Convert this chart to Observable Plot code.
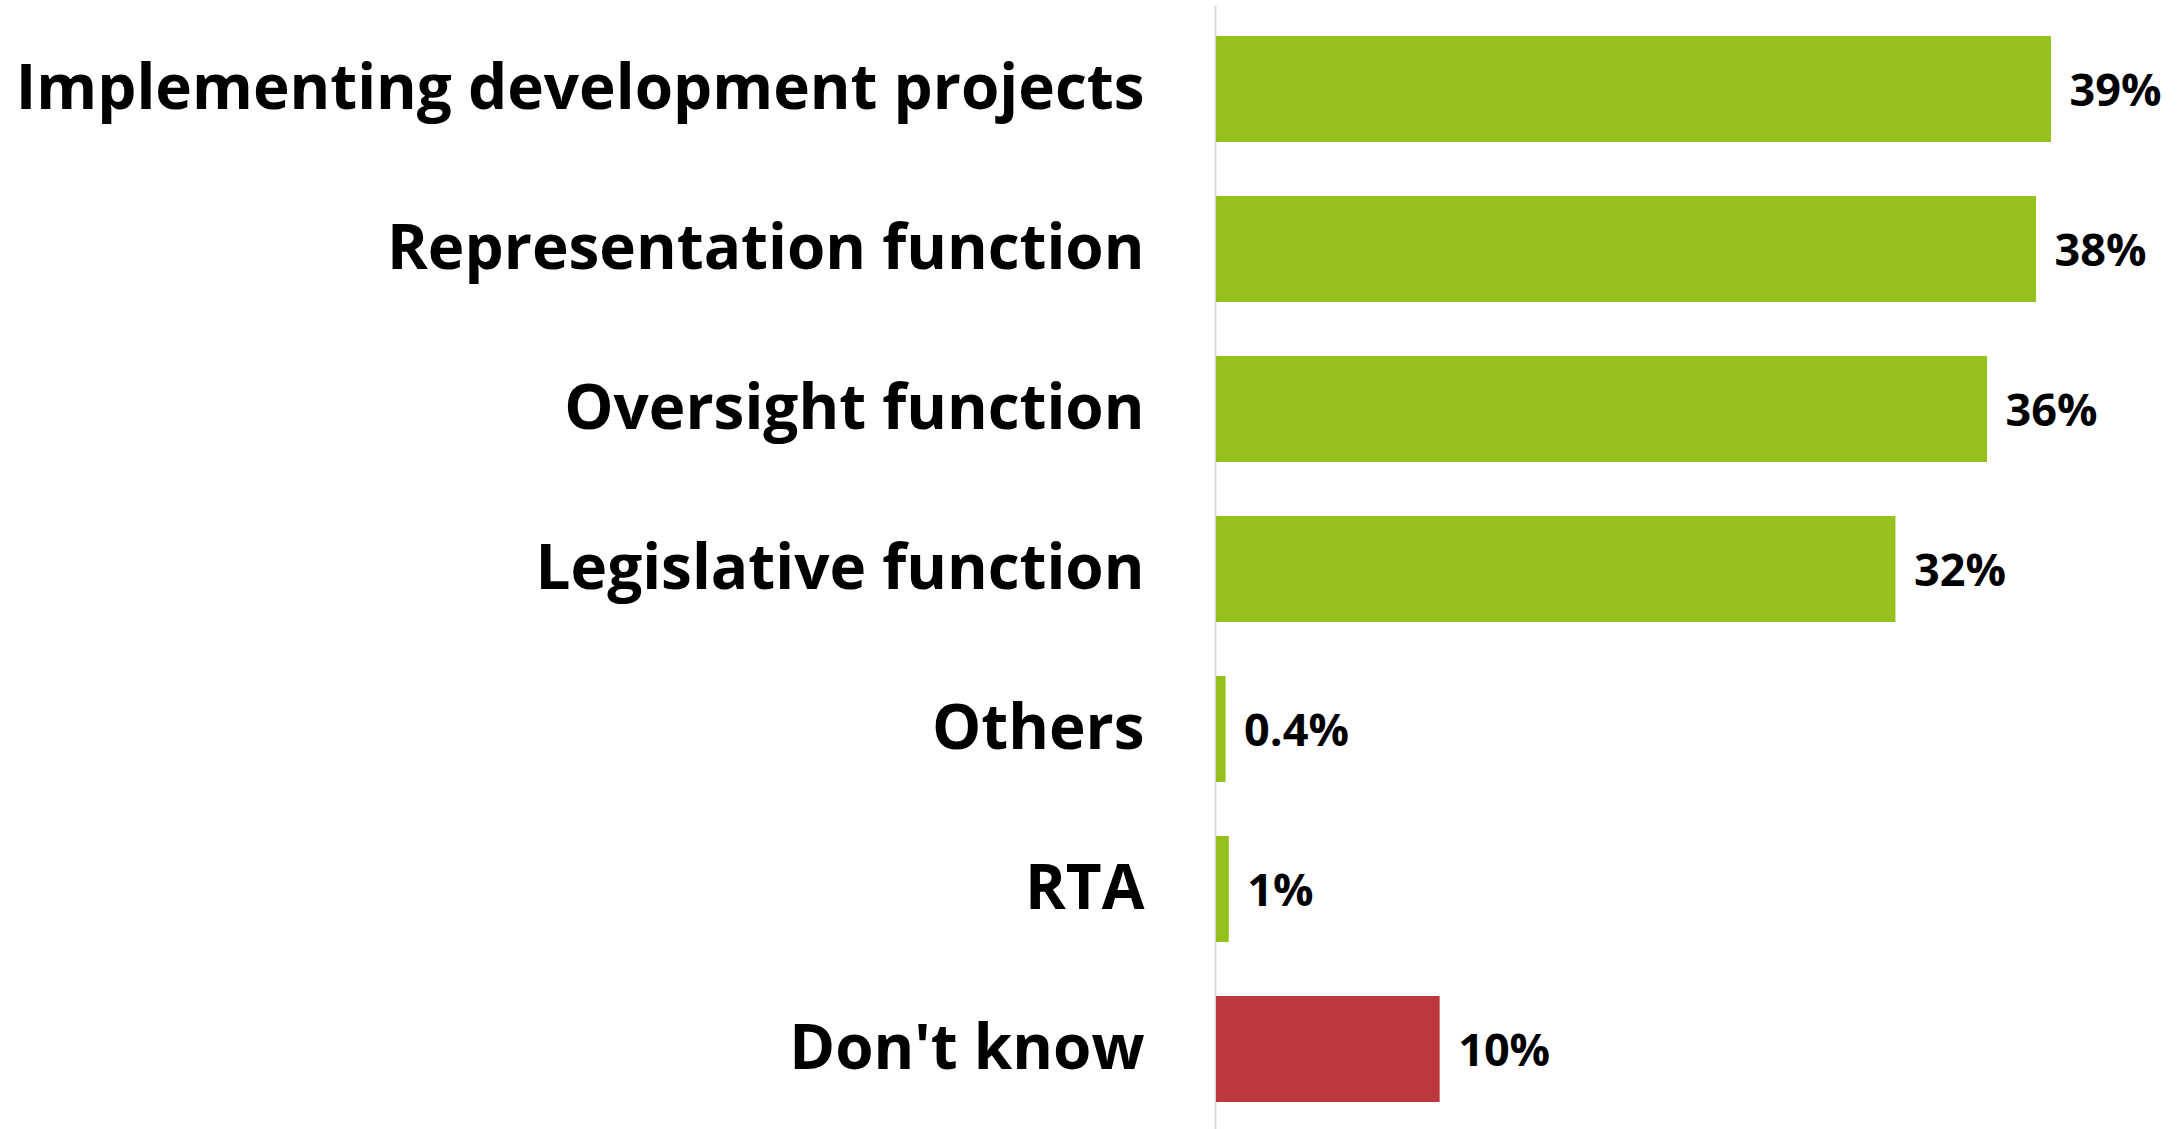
<!DOCTYPE html>
<html>
<head>
<meta charset="utf-8">
<script src="https://cdn.jsdelivr.net/npm/d3@7"></script>
<script src="https://cdn.jsdelivr.net/npm/@observablehq/plot@0.6"></script>
<style>
  html, body { margin: 0; padding: 0; background: #ffffff; }
  #chart svg { display: block; }
</style>
</head>
<body>
<div id="chart"></div>
<script>
const categories = [
  "Implementing development projects",
  "Representation function",
  "Oversight function",
  "Legislative function",
  "Others",
  "RTA",
  "Don't know"
];
const values = [39.2, 38.5, 36.2, 31.9, 0.45, 0.6, 10.5];
const valueLabels = ["39%", "38%", "36%", "32%", "0.4%", "1%", "10%"];

const data = categories.map((c, i) => ({category: c, value: values[i], label: valueLabels[i]}));

const GREEN = "#95c11f";
const RED = "#bd383e";
const FONT = "'Open Sans', Lato, sans-serif";

const chart = Plot.plot({
  width: 2182,
  height: 1129,
  marginLeft: 1216,
  marginRight: 7.5,
  marginTop: 6,
  marginBottom: -3,
  style: {fontFamily: FONT, background: "#ffffff", color: "#000000"},
  x: {domain: [0, 45], axis: null},
  y: {domain: categories, paddingInner: 0.34, paddingOuter: 0.17, label: null},
  marks: [
    Plot.ruleX([0], {stroke: "#d9d9d9", strokeWidth: 2, dx: -1}),
    Plot.barX(data, {
      x: "value",
      y: "category",
      fill: d => d.category === "Don't know" ? RED : GREEN
    }),
    Plot.text(data, {
      x: "value",
      y: "category",
      text: "label",
      textAnchor: "start",
      dx: 18,
      dy: 2,
      fontSize: 45,
      fontWeight: "bold",
      fill: "#000000"
    }),
    Plot.axisY({
      tickSize: 0,
      tickPadding: 72,
      fontSize: 62,
      fontWeight: "bold",
      fill: "#000000",
      label: null
    })
  ]
});

document.getElementById("chart").appendChild(chart);
</script>
</body>
</html>
